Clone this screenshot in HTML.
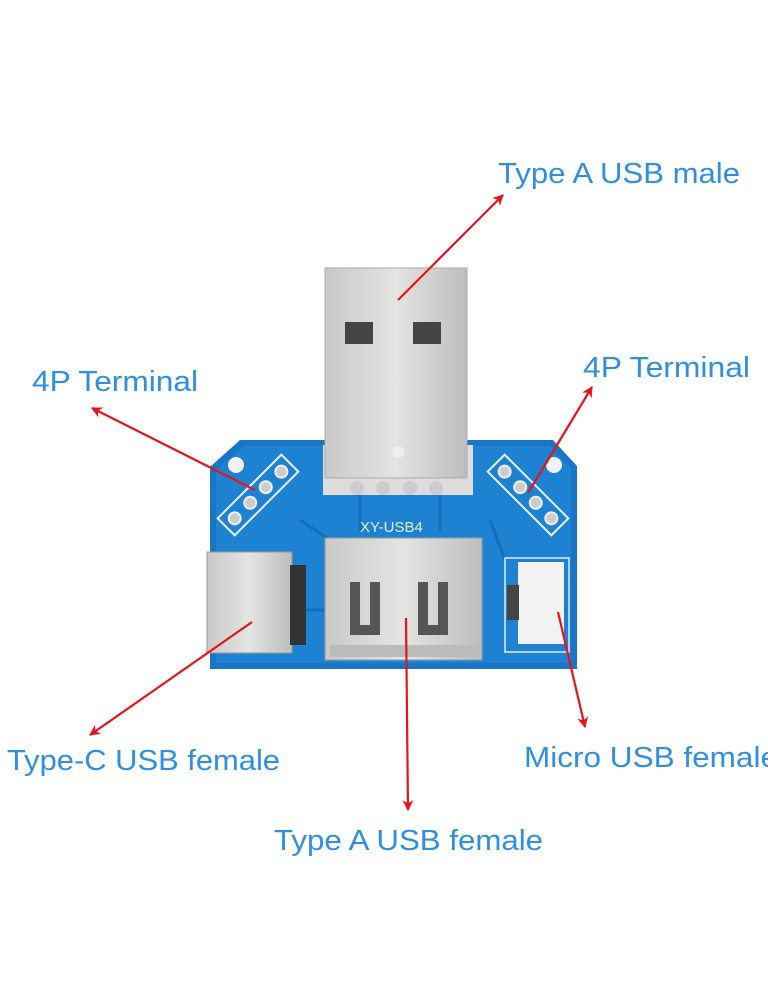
<!DOCTYPE html>
<html><head><meta charset="utf-8"><style>
html,body{margin:0;padding:0;background:#fff;}
svg{display:block}
text{font-family:"Liberation Sans","DejaVu Sans",sans-serif;fill:#2e8fe4;font-size:29px;}
</style></head><body>
<svg width="768" height="1000" viewBox="0 0 768 1000" xmlns="http://www.w3.org/2000/svg">
<defs>
<marker id="ah" viewBox="0 0 10 10" refX="9" refY="5" markerWidth="5" markerHeight="5" orient="auto"><path d="M0,0 L10,5 L0,10 L3,5 z" fill="#e8141a"/></marker>
<linearGradient id="metal" x1="0" x2="1"><stop offset="0" stop-color="#c9c9c9"/><stop offset="0.5" stop-color="#e4e4e2"/><stop offset="1" stop-color="#bdbdbd"/></linearGradient>
</defs>
<rect width="768" height="1000" fill="#fff"/>
<!-- board -->
<path d="M240,440 L553,440 L577,466 L577,669 L210,669 L210,467 Z" fill="#1a75c4"/>
<path d="M244,446 L550,446 L571,468 L571,663 L216,663 L216,470 Z" fill="#1e82d2"/>
<circle cx="236" cy="465" r="8" fill="#f2f2f2"/>
<circle cx="554" cy="465" r="8" fill="#f2f2f2"/>
<!-- traces -->
<g stroke="#1568b4" stroke-width="3" fill="none" opacity="0.8">
<path d="M300,520 L330,540"/><path d="M360,495 L360,530"/><path d="M440,495 L440,530"/><path d="M490,520 L505,560"/><path d="M300,610 L325,610"/>
</g>
<!-- left header -->
<g transform="translate(258,495) rotate(-45)">
<rect x="-45" y="-12" width="90" height="24" fill="none" stroke="#e8f0f8" stroke-width="2"/>
<circle cx="-33" cy="0" r="6" fill="#ccc" stroke="#eee" stroke-width="2"/>
<circle cx="-11" cy="0" r="6" fill="#ccc" stroke="#eee" stroke-width="2"/>
<circle cx="11" cy="0" r="6" fill="#ccc" stroke="#eee" stroke-width="2"/>
<circle cx="33" cy="0" r="6" fill="#ccc" stroke="#eee" stroke-width="2"/>
</g>
<!-- right header -->
<g transform="translate(528,495) rotate(45)">
<rect x="-45" y="-12" width="90" height="24" fill="none" stroke="#e8f0f8" stroke-width="2"/>
<circle cx="-33" cy="0" r="6" fill="#ccc" stroke="#eee" stroke-width="2"/>
<circle cx="-11" cy="0" r="6" fill="#ccc" stroke="#eee" stroke-width="2"/>
<circle cx="11" cy="0" r="6" fill="#ccc" stroke="#eee" stroke-width="2"/>
<circle cx="33" cy="0" r="6" fill="#ccc" stroke="#eee" stroke-width="2"/>
</g>
<text x="360" y="532" style="font-size:15px;fill:#e6eef6">XY-USB4</text>
<!-- male USB -->
<rect x="323" y="445" width="150" height="50" fill="#ddd"/>
<circle cx="357" cy="488" r="7" fill="#ccc"/><circle cx="383" cy="488" r="7" fill="#ccc"/><circle cx="410" cy="488" r="7" fill="#ccc"/><circle cx="436" cy="488" r="7" fill="#ccc"/>
<rect x="325" y="268" width="142" height="210" fill="url(#metal)" stroke="#aaa"/>
<rect x="345" y="322" width="28" height="22" fill="#444"/>
<rect x="413" y="322" width="28" height="22" fill="#444"/>
<circle cx="398" cy="452" r="6" fill="#eee"/>
<!-- female USB A -->
<rect x="325" y="538" width="157" height="122" fill="url(#metal)" stroke="#999"/>
<path d="M350,582 L350,635 L380,635 L380,582 L370,582 L370,625 L360,625 L360,582Z" fill="#555"/>
<path d="M418,582 L418,635 L448,635 L448,582 L438,582 L438,625 L428,625 L428,582Z" fill="#555"/>
<rect x="330" y="645" width="150" height="12" fill="#bbb"/>
<!-- type-c -->
<rect x="207" y="552" width="85" height="101" fill="url(#metal)" stroke="#999"/>
<rect x="290" y="565" width="16" height="80" fill="#333"/>
<!-- micro -->
<rect x="505" y="558" width="64" height="94" fill="none" stroke="#e0eaf4" stroke-width="1.5"/>
<rect x="518" y="562" width="46" height="82" fill="#f2f2f2"/>
<rect x="507" y="585" width="12" height="35" fill="#444"/>
<!-- arrows -->
<g stroke="#e8141a" stroke-width="2.2" fill="none" marker-end="url(#ah)">
<line x1="398" y1="300" x2="503" y2="195"/>
<line x1="255" y1="490" x2="92" y2="408"/>
<line x1="528" y1="493" x2="592" y2="387"/>
<line x1="252" y1="622" x2="90" y2="735"/>
<line x1="406" y1="618" x2="408" y2="810"/>
<line x1="558" y1="612" x2="585" y2="727"/>
</g>
<!-- labels -->
<text x="498" y="183" textLength="242" lengthAdjust="spacingAndGlyphs">Type A USB male</text>
<text x="32" y="391" textLength="166" lengthAdjust="spacingAndGlyphs">4P Terminal</text>
<text x="583" y="377" textLength="167" lengthAdjust="spacingAndGlyphs">4P Terminal</text>
<text x="7" y="770" textLength="273" lengthAdjust="spacingAndGlyphs">Type-C USB female</text>
<text x="524" y="767" textLength="254" lengthAdjust="spacingAndGlyphs">Micro USB female</text>
<text x="274" y="850" textLength="269" lengthAdjust="spacingAndGlyphs">Type A USB female</text>
</svg>
</body></html>
